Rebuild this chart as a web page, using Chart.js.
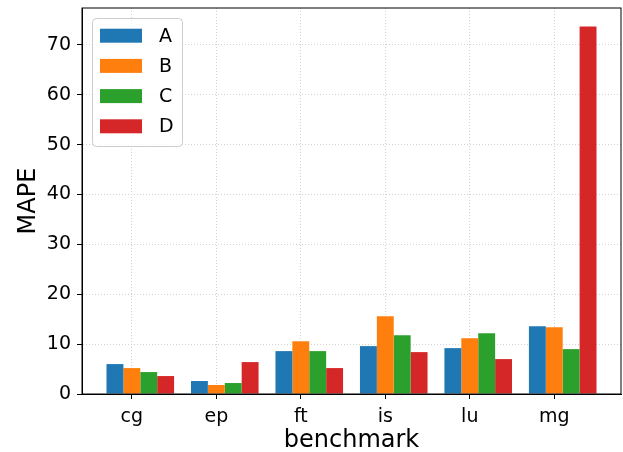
<!DOCTYPE html>
<html>
<head>
<meta charset="utf-8">
<script src="https://cdn.jsdelivr.net/npm/chart.js@4"></script>
<style>
  html, body { margin: 0; padding: 0; background: #fff; }
  #wrap { width: 623px; height: 452px; }
</style>
</head>
<body>
<div id="wrap"><canvas id="chart" width="623" height="452"></canvas></div>
<script>
// Benchmarks on the x axis
const benchmarks = ['cg', 'ep', 'ft', 'is', 'lu', 'mg'];

// MAPE per series
const seriesA = [6.0, 2.6, 8.6, 9.6, 9.2, 13.6];
const seriesB = [5.2, 1.8, 10.6, 15.6, 11.2, 13.4];
const seriesC = [4.4, 2.2, 8.6, 11.8, 12.2, 9.0];
const seriesD = [3.6, 6.4, 5.2, 8.4, 7.0, 73.7];

const seriesNames = ['A', 'B', 'C', 'D'];
const yTicks = [0, 10, 20, 30, 40, 50, 60, 70];

// matplotlib tab10
const colors = ['#1f77b4', '#ff7f0e', '#2ca02c', '#d62728'];
const FONT = 'DejaVu Sans';
// tick sits under the second bar of each group, not the group centre
const TICK_SHIFT = -0.1;

function toPoints(values) {
  return values.map((v, i) => ({ x: i, y: v }));
}

const allSeries = [seriesA, seriesB, seriesC, seriesD];

// full box around the plot + legend drawn like matplotlib's
const framePlugin = {
  id: 'frame',
  afterDatasetsDraw(chart) {
    const { ctx, chartArea: a } = chart;
    ctx.save();
    ctx.strokeStyle = '#000';
    ctx.lineWidth = 1;
    ctx.strokeRect(a.left, a.top, a.right - a.left, a.bottom - a.top);

    // legend
    const lx = a.left + 10.5, ly = a.top + 10.5, lw = 90, lh = 128;
    ctx.beginPath();
    ctx.roundRect(lx, ly, lw, lh, 4);
    ctx.fillStyle = 'rgba(255,255,255,0.8)';
    ctx.fill();
    ctx.strokeStyle = '#cccccc';
    ctx.stroke();
    ctx.font = '19px "' + FONT + '"';
    ctx.textBaseline = 'middle';
    chart.data.datasets.forEach((ds, i) => {
      const cy = a.top + 27.7 + i * 30.2;
      ctx.fillStyle = ds.backgroundColor;
      ctx.fillRect(a.left + 18, cy - 7, 42, 14);
      ctx.fillStyle = '#000';
      ctx.fillText(ds.label, a.left + 77, cy + 1);
    });
    ctx.restore();
  }
};

new Chart(document.getElementById('chart'), {
  type: 'bar',
  data: {
    datasets: seriesNames.map((name, i) => ({
      label: name,
      data: toPoints(allSeries[i]),
      backgroundColor: colors[i],
      borderWidth: 0,
      categoryPercentage: 0.8,
      barPercentage: 1.0
    }))
  },
  options: {
    responsive: false,
    animation: false,
    layout: { padding: { top: 8, right: 2, left: 0, bottom: -3 } },
    plugins: {
      legend: { display: false },
      tooltip: { enabled: false }
    },
    scales: {
      x: {
        type: 'linear',
        min: -0.69,
        max: 5.69,
        offset: false,
        afterFit(scale) {
          scale.height = 61;
          scale.paddingLeft = 0;
          scale.paddingRight = 0;
        },
        afterBuildTicks(scale) {
          scale.ticks = benchmarks.map((b, i) => ({ value: i + TICK_SHIFT, label: b }));
        },
        ticks: {
          includeBounds: false,
          autoSkip: false,
          maxRotation: 0,
          padding: 7,
          color: '#000',
          font: { family: FONT, size: 19 },
          callback: (v, i) => benchmarks[i]
        },
        grid: {
          offset: false,
          color: '#d3d3d3',
          lineWidth: 1,
          tickColor: '#000',
          tickLength: 5,
          tickBorderDash: [],
          tickWidth: 1
        },
        border: { display: true, color: '#000', width: 1, dash: [1, 2] },
        title: {
          display: true,
          text: 'benchmark',
          color: '#000',
          font: { family: FONT, size: 24 },
          padding: { top: 0, bottom: 0 }
        }
      },
      y: {
        min: 0,
        max: 77.4,
        afterFit(scale) {
          scale.width = 82;
          scale.paddingTop = 0;
          scale.paddingBottom = 0;
        },
        afterBuildTicks(scale) {
          scale.ticks = yTicks.map(v => ({ value: v }));
        },
        ticks: {
          includeBounds: false,
          padding: 6,
          color: '#000',
          font: { family: FONT, size: 19 }
        },
        grid: {
          color: '#d3d3d3',
          lineWidth: 1,
          tickColor: '#000',
          tickLength: 5,
          tickBorderDash: [],
          tickWidth: 1
        },
        border: { display: true, color: '#000', width: 1, dash: [1, 2] },
        title: {
          display: true,
          text: 'MAPE',
          color: '#000',
          font: { family: FONT, size: 24 },
          padding: { top: 14, bottom: 0 }
        }
      }
    }
  },
  plugins: [framePlugin]
});
</script>
</body>
</html>
